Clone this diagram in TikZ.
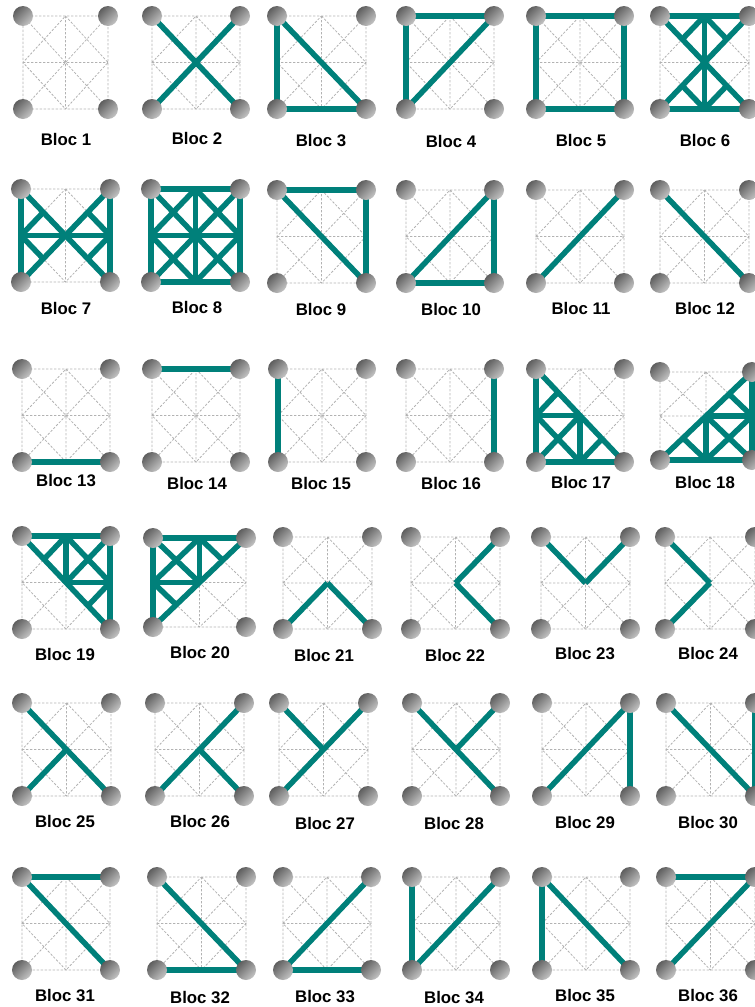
\documentclass[tikz,border=0pt]{standalone}
\usepackage{fontspec}
\usetikzlibrary{calc}
\setmainfont{Liberation Sans}
\definecolor{barteal}{HTML}{00807A}
\definecolor{gridgrey}{HTML}{B2B2B2}
\definecolor{balldark}{HTML}{4A4A4A}
\definecolor{balllight}{HTML}{D8D8D8}
\pgfdeclareverticalshading{ballshade}{100bp}{color(0bp)=(balllight); color(15bp)=(balllight); color(85bp)=(balldark); color(100bp)=(balldark)}
\tikzset{
  gridline/.style={draw=gridgrey,line width=0.8pt,dash pattern=on 2.4pt off 1.6pt},
  bar/.style={draw=barteal,line width=5.5pt},
  ball/.style={circle,minimum size=20pt,inner sep=0pt,shading=ballshade,shading angle=45},
  bloclabel/.style={font=\fontsize{16.8pt}{18pt}\selectfont\bfseries,inner sep=0pt,text=black}
}
% #1 id, #2 x1, #3 y1, #4 x2, #5 y2, #6 label x, #7 label y, #8 bars
\newcommand{\bloc}[8]{%
 \begin{scope}[name prefix=b#1-]
  \coordinate (tl) at (#2,#3);\coordinate (tr) at (#4,#3);
  \coordinate (bl) at (#2,#5);\coordinate (br) at (#4,#5);
  \coordinate (t) at ($(tl)!.5!(tr)$);\coordinate (b) at ($(bl)!.5!(br)$);
  \coordinate (l) at ($(tl)!.5!(bl)$);\coordinate (r) at ($(tr)!.5!(br)$);
  \coordinate (c) at ($(tl)!.5!(br)$);
  \coordinate (q1) at ($(tl)!.5!(c)$);\coordinate (q2) at ($(tr)!.5!(c)$);
  \coordinate (q3) at ($(bl)!.5!(c)$);\coordinate (q4) at ($(br)!.5!(c)$);
  \draw[gridline] (tl)--(tr)--(br)--(bl)--cycle (tl)--(br) (tr)--(bl) (t)--(b) (l)--(r) (t)--(r)--(b)--(l)--cycle;
  \foreach \p/\q in {#8} {\draw[bar] (\p)--(\q);}
  \foreach \n in {tl,tr,bl,br} {\node[ball] (ball\n) at (\n) {};}
  \node[bloclabel] (lab) at (#6,#7) {Bloc #1};
 \end{scope}}
\begin{document}
\begin{tikzpicture}[x=1pt,y=-1pt]
\useasboundingbox (0,0) rectangle (755,1007);
\clip (0,0) rectangle (755,1007);
\bloc{1}{23}{16}{108}{109}{66}{139}{tl/tl}
\bloc{2}{152}{16}{240}{109}{197}{138}{tl/br,tr/bl}
\bloc{3}{277}{16}{366}{109}{321}{141}{tl/bl,bl/br,tl/br}
\bloc{4}{406}{16}{494}{109}{451}{141}{tl/bl,tl/tr,bl/tr}
\bloc{5}{536}{16}{624}{109}{581}{140}{tl/tr,tr/br,br/bl,bl/tl}
\bloc{6}{660}{16}{749}{109}{705}{140}{tl/tr,bl/br,tl/br,tr/bl,t/b,t/q1,t/q2,b/q3,b/q4}
\bloc{7}{21}{189}{110}{282}{66}{308}{tl/bl,tr/br,tl/br,tr/bl,l/r,l/q1,l/q3,r/q2,r/q4}
\bloc{8}{151}{189}{240}{282}{197}{307}{tl/tr,tr/br,br/bl,bl/tl,tl/br,tr/bl,t/b,l/r,t/r,r/b,b/l,l/t}
\bloc{9}{277}{190}{366}{283}{321}{309}{tl/tr,tr/br,tl/br}
\bloc{10}{406}{190}{494}{283}{451}{309}{bl/br,tr/br,bl/tr}
\bloc{11}{536}{190}{624}{283}{581}{308}{bl/tr}
\bloc{12}{660}{190}{749}{283}{705}{308}{tl/br}
\bloc{13}{22}{369}{110}{462}{66}{481}{bl/br}
\bloc{14}{152}{369}{240}{462}{197}{483}{tl/tr}
\bloc{15}{278}{369}{366}{462}{321}{483}{tl/bl}
\bloc{16}{406}{369}{494}{462}{451}{483}{tr/br}
\bloc{17}{536}{369}{624}{462}{581}{482}{tl/bl,bl/br,tl/br,l/c,c/b,l/q1,l/b,bl/c,b/q4}
\bloc{18}{660}{372}{752}{460}{705}{482}{bl/tr,bl/br,tr/br,c/r,c/b,b/r,c/br,q3/b,q2/r}
\bloc{19}{22}{536}{110}{629}{65}{654}{tl/br,tl/tr,tr/br,t/c,c/r,t/q1,t/r,c/tr,r/q4}
\bloc{20}{153}{538}{246}{627}{200}{652}{tl/tr,tl/bl,bl/tr,t/c,l/c,t/l,tl/c,t/q2,l/q3}
\bloc{21}{283}{537}{372}{629}{324}{655}{bl/c,c/br}
\bloc{22}{411}{537}{500}{629}{455}{655}{tr/c,c/br}
\bloc{23}{541}{537}{630}{629}{585}{653}{tl/c,c/tr}
\bloc{24}{665}{537}{755}{629}{708}{653}{tl/c,c/bl}
\bloc{25}{22}{703}{111}{796}{65}{821}{tl/br,bl/c}
\bloc{26}{155}{703}{244}{796}{200}{821}{bl/tr,c/br}
\bloc{27}{279}{703}{368}{796}{325}{823}{bl/tr,tl/c}
\bloc{28}{412}{703}{500}{796}{454}{823}{tl/br,c/tr}
\bloc{29}{542}{703}{630}{796}{585}{822}{bl/tr,tr/br}
\bloc{30}{666}{703}{755}{796}{708}{822}{tl/br,tr/br}
\bloc{31}{22}{877}{110}{970}{65}{995}{tl/tr,tl/br}
\bloc{32}{157}{877}{246}{970}{200}{997}{tl/br,bl/br}
\bloc{33}{283}{877}{371}{970}{325}{996}{bl/tr,bl/br}
\bloc{34}{412}{877}{500}{970}{454}{997}{tl/bl,bl/tr}
\bloc{35}{542}{877}{630}{970}{585}{995}{tl/bl,tl/br}
\bloc{36}{666}{877}{755}{970}{708}{995}{tl/tr,bl/tr}
\end{tikzpicture}
\end{document}
